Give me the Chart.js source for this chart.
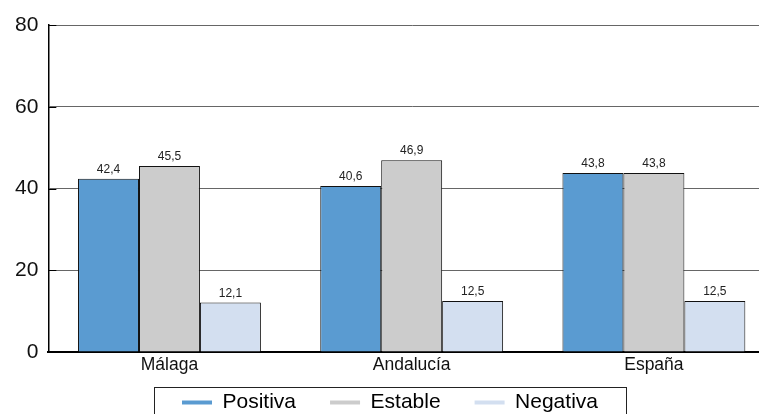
<!DOCTYPE html>
<html>
<head>
<meta charset="utf-8">
<script src="https://cdn.jsdelivr.net/npm/chart.js@4/dist/chart.umd.min.js"></script>
<style>
  html, body { margin: 0; padding: 0; background: #fff; overflow: hidden; }
  #wrap { width: 775px; height: 414px; }
</style>
</head>
<body>
<div id="wrap"><canvas id="barChart"></canvas></div>
<script>
const categories = ['Málaga', 'Andalucía', 'España'];
const positiva = [42.4, 40.6, 43.8];
const estable = [45.5, 46.9, 43.8];
const negativa = [12.1, 12.5, 12.5];
const yTicks = [0, 20, 40, 60, 80];

const FONT = '"Liberation Sans", Arial, Helvetica, sans-serif';

// valores encima de cada barra, con coma decimal
const valueLabels = {
    id: 'valueLabels',
    afterDatasetsDraw(chart) {
        const ctx = chart.ctx;
        ctx.save();
        ctx.font = '12px ' + FONT;
        ctx.fillStyle = '#222';
        ctx.textAlign = 'center';
        ctx.textBaseline = 'alphabetic';
        chart.data.datasets.forEach((ds, i) => {
            chart.getDatasetMeta(i).data.forEach((bar, j) => {
                ctx.fillText(ds.data[j].toFixed(1).replace('.', ','), bar.x, bar.y - 6);
            });
        });
        ctx.restore();
    }
};

// marcas negras cortas al inicio de cada linea de rejilla
const innerTicks = {
    id: 'innerTicks',
    afterDraw(chart) {
        const y = chart.scales.y;
        const ctx = chart.ctx;
        ctx.save();
        ctx.strokeStyle = '#000';
        ctx.lineWidth = 1;
        yTicks.forEach(v => {
            if (v === 0) return;
            const py = Math.round(y.getPixelForValue(v)) + 0.5;
            ctx.beginPath();
            ctx.moveTo(chart.chartArea.left, py);
            ctx.lineTo(chart.chartArea.left + 8, py);
            ctx.stroke();
        });
        ctx.restore();
    }
};

// la leyenda reserva poco alto y se sube para quedar como en el original
const legendShift = {
    id: 'legendShift',
    afterLayout(chart) {
        const lg = chart.legend;
        lg.top = 392 - lg.options.labels.padding;
        lg.bottom = chart.height;
        lg.height = lg.bottom - lg.top;
        // que las etiquetas del eje x no se recorten
        chart.scales.x.bottom = chart.scales.x.top + 30;
    },
    afterDraw(chart) {
        const hb = chart.legend.legendHitBoxes;
        if (!hb || !hb.length) return;
        const left = Math.min(...hb.map(h => h.left)) - 28;
        const right = Math.max(...hb.map(h => h.left + h.width)) + 28;
        const ctx = chart.ctx;
        ctx.save();
        ctx.strokeStyle = '#222';
        ctx.lineWidth = 1;
        ctx.strokeRect(Math.round(left) + 0.5, 387.5, Math.round(right - left), 60);
        ctx.restore();
    }
};

const chartData = {
    labels: categories,
    datasets: [{
        label: 'Positiva',
        data: positiva,
        backgroundColor: '#5a9bd1',
        borderColor: '#111',
        borderWidth: 1
    }, {
        label: 'Estable',
        data: estable,
        backgroundColor: '#cccccc',
        borderColor: '#111',
        borderWidth: 1
    }, {
        label: 'Negativa',
        data: negativa,
        backgroundColor: '#d3dff0',
        borderColor: '#111',
        borderWidth: 1
    }]
};

new Chart(document.getElementById('barChart'), {
    type: 'bar',
    data: chartData,
    options: {
        responsive: true,
        maintainAspectRatio: false,
        animation: false,
        categoryPercentage: 0.755,
        barPercentage: 1,
        layout: { padding: { left: 5, top: 25, right: 0, bottom: 0 } },
        plugins: {
            tooltip: { enabled: false },
            legend: {
                position: 'bottom',
                maxHeight: 43,
                labels: {
                    font: { family: FONT, size: 21 },
                    color: '#111',
                    usePointStyle: true,
                    pointStyle: 'line',
                    boxWidth: 30,
                    boxHeight: 12,
                    pointStyleWidth: 30,
                    padding: 34,
                    generateLabels(chart) {
                        return chart.data.datasets.map((ds, i) => ({
                            text: ds.label,
                            fillStyle: ds.backgroundColor,
                            strokeStyle: ds.backgroundColor,
                            lineWidth: 4,
                            pointStyle: 'line',
                            datasetIndex: i
                        }));
                    }
                }
            }
        },
        scales: {
            x: {
                grid: { display: false },
                border: { color: '#000', width: 2 },
                ticks: { font: { family: FONT, size: 17.5 }, color: '#111', padding: -5 }
            },
            y: {
                min: 0,
                max: 80,
                afterBuildTicks(axis) {
                    axis.ticks = yTicks.map(v => ({ value: v }));
                },
                grid: { color: '#666', drawTicks: false },
                border: { color: '#000', width: 1.5 },
                ticks: { font: { family: FONT, size: 21 }, color: '#111', padding: 10 }
            }
        }
    },
    plugins: [valueLabels, innerTicks, legendShift]
});
</script>
</body>
</html>
